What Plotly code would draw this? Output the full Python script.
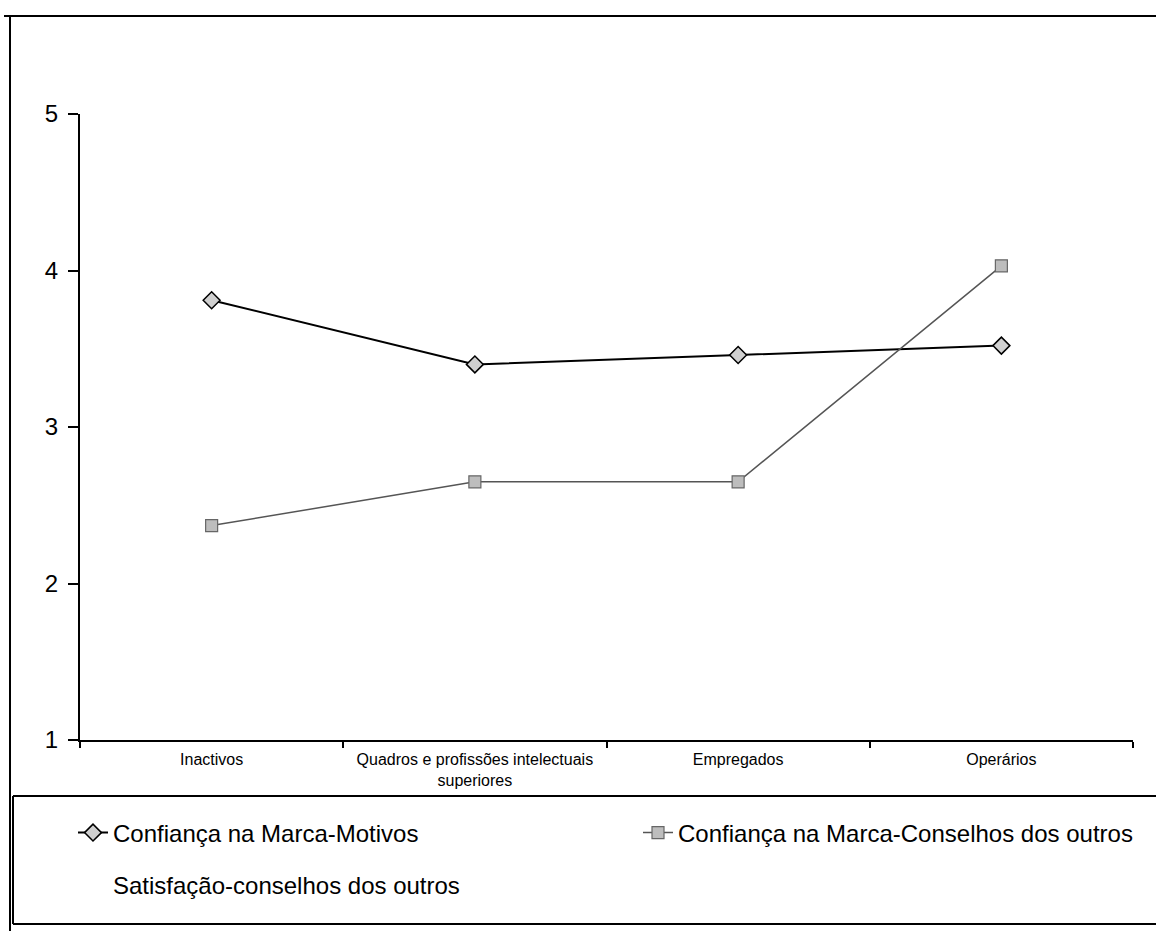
import plotly.graph_objects as go

categories = ["Inactivos", "Quadros e profissões intelectuais<br>superiores", "Empregados", "Operários"]
motivos = [3.81, 3.40, 3.46, 3.52]
conselhos = [2.37, 2.65, 2.65, 4.03]
satisfacao = [None, None, None, None]
y_ticks = [1, 2, 3, 4, 5]

# page body margin is removed by post_script; work in screenshot pixels
OFF = 0
SW, SH = 1156, 931
W, H = SW, SH
PL, PR, PT, PB = 80, 1133, 114, 740     # plot area in screenshot pixels
L, R, T, B = PL - OFF, (OFF + W) - PR, PT - OFF, (OFF + H) - PB
pw = PR - PL
ph = PB - PT

def px_x(x):
    return (x - PL) / pw

def px_y(y):
    return (PB - y) / ph

def cx(x):
    return (x - OFF) / W

def cy(y):
    return 1 - (y - OFF) / H

FONT = "Liberation Sans, Arial, sans-serif"

fig = go.Figure()
fig.add_trace(go.Scatter(
    x=categories, y=motivos, name="Confiança na Marca-Motivos",
    mode="lines+markers",
    line=dict(color="black", width=2),
    marker=dict(symbol="diamond", size=13, color="#d0d0d0", line=dict(color="black", width=1.5)),
    legend="legend",
))
fig.add_trace(go.Scatter(
    x=categories, y=conselhos, name="Confiança na Marca-Conselhos dos outros",
    mode="lines+markers",
    line=dict(color="#555555", width=1.5),
    marker=dict(symbol="square", size=12, color="#bdbdbd", line=dict(color="#666666", width=1.2)),
    legend="legend2",
))
fig.add_trace(go.Scatter(
    x=categories, y=satisfacao, name="Satisfação-conselhos dos outros",
    mode="lines",
    line=dict(color="white", width=1.5),
    legend="legend3",
))

legend_common = dict(
    xref="container", yref="container", xanchor="left", yanchor="middle",
    bgcolor="rgba(0,0,0,0)", borderwidth=0,
    font=dict(family=FONT, size=24, color="black"),
)
fig.update_layout(
    legend=dict(x=cx(73), y=cy(833), **legend_common),
    legend2=dict(x=cx(638), y=cy(833), **legend_common),
    legend3=dict(x=cx(73), y=cy(885), **legend_common),
)

fig.update_xaxes(
    type="category", range=[-0.5, 3.5],
    showline=True, linecolor="black", linewidth=2,
    ticks="outside", tickson="boundaries", ticklen=6, tickwidth=1.5, tickcolor="black",
    showgrid=False, zeroline=False, tickangle=0, automargin=False,
    tickfont=dict(family=FONT, size=16, color="black"),
    ticklabelstandoff=4,
)
fig.update_yaxes(
    range=[1, 5], tickvals=y_ticks,
    showline=True, linecolor="black", linewidth=2,
    ticks="outside", ticklen=10, tickwidth=1.5, tickcolor="black",
    showgrid=False, zeroline=False, automargin=False,
    tickfont=dict(family=FONT, size=24, color="black"),
    ticklabelstandoff=5,
)

def hline(x0, x1, y):
    return dict(type="line", xref="paper", yref="paper",
                x0=px_x(x0), x1=px_x(x1), y0=px_y(y), y1=px_y(y),
                line=dict(color="black", width=2))

def vline(x, y0, y1):
    return dict(type="line", xref="paper", yref="paper",
                x0=px_x(x), x1=px_x(x), y0=px_y(y0), y1=px_y(y1),
                line=dict(color="black", width=2))

shapes = [
    # outer frame top and left
    hline(4, 1170, 16),
    vline(10, 16, 940),
    # legend box (right side beyond the picture)
    hline(13, 1170, 796),
    hline(13, 1170, 924),
    vline(13, 796, 924),
]

fig.update_layout(
    width=W, height=H,
    margin=dict(l=L, r=R, t=T, b=B, autoexpand=False),
    paper_bgcolor="white", plot_bgcolor="white",
    font=dict(family=FONT, color="black"),
    shapes=shapes,
    showlegend=True,
)

fig.write_html(
    "out.html",
    config={"displayModeBar": False},
    post_script="document.body.style.margin='0';document.body.style.overflow='hidden';",
)
